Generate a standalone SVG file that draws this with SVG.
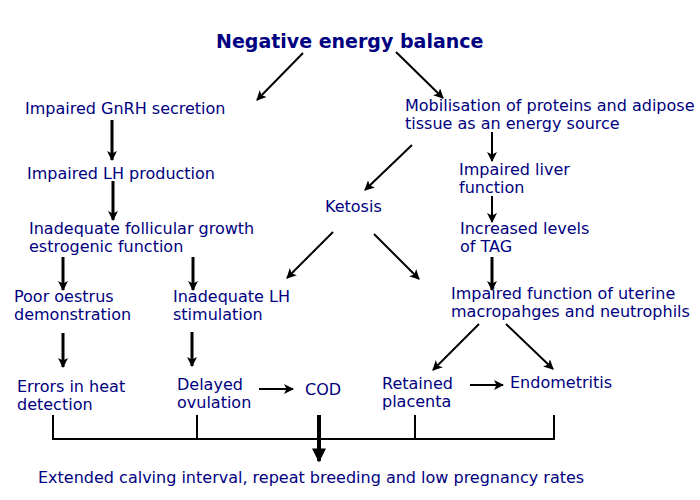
<svg xmlns="http://www.w3.org/2000/svg" width="700" height="500" viewBox="0 0 700 500">
<style>
text{font-family:"DejaVu Sans",Verdana,sans-serif;font-size:16px;fill:#000080}
.title{font-size:19px;font-weight:bold}
.c line,.c polyline{stroke:#000;fill:none}
.thin{stroke-width:2}
.thick{stroke-width:3}
</style>
<defs>
<marker id="ah" viewBox="0 0 10 10" refX="9" refY="5" markerWidth="10" markerHeight="10" markerUnits="userSpaceOnUse" orient="auto">
<path d="M0,0 L10,5 L0,10 L2.5,5 z" fill="#000"/>
</marker>
<marker id="big" viewBox="0 0 10 10" refX="9" refY="5" markerWidth="15" markerHeight="14" markerUnits="userSpaceOnUse" orient="auto">
<path d="M0,0 L10,5 L0,10 z" fill="#000"/>
</marker>
</defs>
<rect width="700" height="500" fill="#fff"/>
<g id="neb"><text class="title" x="216" y="48">Negative energy balance</text></g>
<g id="gnrh"><text x="25" y="114">Impaired GnRH secretion</text></g>
<g id="lh"><text x="27" y="179">Impaired LH production</text></g>
<g id="foll"><text x="29" y="234">Inadequate follicular growth</text><text x="29" y="252">estrogenic function</text></g>
<g id="poor"><text x="14" y="302">Poor oestrus</text><text x="14" y="320">demonstration</text></g>
<g id="inlh"><text x="173" y="302">Inadequate LH</text><text x="173" y="320">stimulation</text></g>
<g id="errors"><text x="17" y="392">Errors in heat</text><text x="17" y="410">detection</text></g>
<g id="delayed"><text x="177" y="390">Delayed</text><text x="177" y="408">ovulation</text></g>
<g id="cod"><text x="305" y="395">COD</text></g>
<g id="mob"><text x="405" y="111">Mobilisation of proteins and adipose</text><text x="405" y="129">tissue as an energy source</text></g>
<g id="ketosis"><text x="325" y="212">Ketosis</text></g>
<g id="liver"><text x="459" y="175">Impaired liver</text><text x="459" y="193">function</text></g>
<g id="tag"><text x="460" y="234">Increased levels</text><text x="460" y="252">of TAG</text></g>
<g id="uterine"><text x="451" y="299">Impaired function of uterine</text><text x="451" y="317">macropahges and neutrophils</text></g>
<g id="retained"><text x="382" y="389">Retained</text><text x="382" y="407">placenta</text></g>
<g id="endo"><text x="510" y="388">Endometritis</text></g>
<g id="outcome"><text x="38" y="483">Extended calving interval, repeat breeding and low pregnancy rates</text></g>
<g id="connectors" class="c">
<line class="thin" x1="303" y1="53" x2="257" y2="100" marker-end="url(#ah)"/>
<line class="thin" x1="396" y1="52" x2="443" y2="98" marker-end="url(#ah)"/>
<line class="thick" x1="112" y1="120" x2="112" y2="160" marker-end="url(#ah)"/>
<line class="thick" x1="113" y1="181" x2="113" y2="220" marker-end="url(#ah)"/>
<line class="thick" x1="63" y1="257" x2="63" y2="290" marker-end="url(#ah)"/>
<line class="thick" x1="193" y1="257" x2="193" y2="290" marker-end="url(#ah)"/>
<line class="thick" x1="63" y1="333" x2="63" y2="367" marker-end="url(#ah)"/>
<line class="thick" x1="192" y1="332" x2="192" y2="366" marker-end="url(#ah)"/>
<line class="thin" x1="259" y1="389" x2="293" y2="389" marker-end="url(#ah)"/>
<line class="thin" x1="412" y1="145" x2="365" y2="190" marker-end="url(#ah)"/>
<line class="thin" x1="492" y1="132" x2="492" y2="161" marker-end="url(#ah)"/>
<line class="thin" x1="492" y1="196" x2="492" y2="222" marker-end="url(#ah)"/>
<line class="thick" x1="492" y1="257" x2="492" y2="290" marker-end="url(#ah)"/>
<line class="thin" x1="333" y1="232" x2="287" y2="278" marker-end="url(#ah)"/>
<line class="thin" x1="374" y1="234" x2="419" y2="279" marker-end="url(#ah)"/>
<line class="thin" x1="479" y1="324" x2="433" y2="370" marker-end="url(#ah)"/>
<line class="thin" x1="506" y1="324" x2="553" y2="369" marker-end="url(#ah)"/>
<line class="thin" x1="470" y1="385" x2="503" y2="385" marker-end="url(#ah)"/>
<polyline class="thin" points="53,415 53,439 554,439 554,415"/>
<line class="thin" x1="197" y1="415" x2="197" y2="439"/>
<line class="thin" x1="415" y1="415" x2="415" y2="439"/>
<line stroke-width="4" x1="319" y1="415" x2="319" y2="461" marker-end="url(#big)"/>
</g>
</svg>
